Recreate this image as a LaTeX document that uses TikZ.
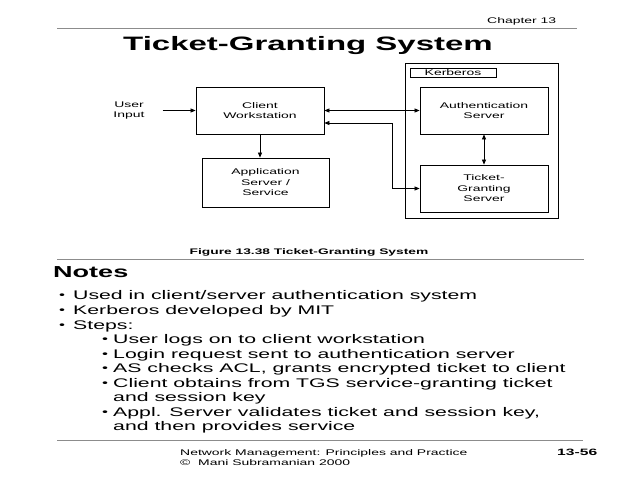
\documentclass[tikz,border=0pt]{standalone}
\usepackage{fontspec}
\setmainfont{Liberation Sans}[FakeStretch=1.7]
\usetikzlibrary{arrows.meta}
\begin{document}
\begin{tikzpicture}[x=1pt,y=-1pt,
  box/.style={draw, line width=0.8pt, inner sep=0pt},
  lbl/.style={font=\fontsize{8.2}{10.5}\selectfont, align=center, inner sep=0pt},
  arr/.style={-{Triangle[length=5pt,width=4pt]}, line width=0.7pt},
  darr/.style={{Triangle[length=5pt,width=4pt]}-{Triangle[length=5pt,width=4pt]}, line width=0.7pt},
  rule/.style={draw=gray!90, line width=1.5pt},
  body/.style={font=\fontsize{12.5}{14.5}\selectfont, anchor=base west, inner sep=0pt},
  bul/.style={font=\fontsize{10}{10}\selectfont, anchor=base west, inner sep=0pt, yshift=1pt},
  small/.style={font=\fontsize{8.2}{10}\selectfont, anchor=base west, inner sep=0pt},
]
\useasboundingbox[fill=white] (0,0) rectangle (640,480);

% header
\node[small] (chap) at (487,23) {Chapter 13};
\draw[rule] (57,28.5) -- (577,28.5);
\node[font=\fontsize{19.4}{22}\selectfont\bfseries, anchor=base, inner sep=0pt] (title) at (308,50) {Ticket-Granting System};

% diagram
\node[box, minimum width=153pt, minimum height=155pt] (kerb) at (481.5,140.5) {};
\node[box, lbl, minimum width=86pt, minimum height=9pt] (klbl) at (453,72.5) {Kerberos};
\node[lbl] (ui) at (129,110.5) {User\\Input};
\node[box, lbl, minimum width=128pt, minimum height=47pt] (cw) at (260,110.5) {Client\\Workstation};
\node[box, lbl, minimum width=127pt, minimum height=49pt] (app) at (265.5,182.5) {Application\\Server /\\Service};
\node[box, lbl, minimum width=128pt, minimum height=47pt] (as) at (484,110.5) {Authentication\\Server};
\node[box, lbl, minimum width=128pt, minimum height=47pt] (tgs) at (484,188.5) {Ticket-\\Granting\\Server};

\draw[arr, shorten <=18pt] (ui.east) -- (cw.west);
\draw[arr] (cw.south) -- (cw.south |- app.north);
\draw[darr] (cw.east) -- (as.west);
\draw[darr] ([yshift=-12.5pt]cw.east) -- ++(68,0) |- (tgs.west);
\draw[darr] (as.south) -- (tgs.north);

% caption
\node[font=\fontsize{8.1}{10}\selectfont\bfseries, anchor=base, inner sep=0pt] (cap) at (309,254) {Figure 13.38 Ticket-Granting System};
\draw[rule] (57,259.5) -- (584,259.5);

% notes
\node[font=\fontsize{15.9}{18}\selectfont\bfseries, anchor=base west, inner sep=0pt] (notes) at (53,277) {Notes};
\node[bul] (b1) at (59,299.5) {•};
\node[body] (t1) at (73,299.5) {Used in client/server authentication system};
\node[bul] (b2) at (59,314.5) {•};
\node[body] (t2) at (73,314.5) {Kerberos developed by MIT};
\node[bul] (b3) at (59,329.5) {•};
\node[body] (t3) at (73,329.5) {Steps:};
\node[bul] (s1b) at (102,343.5) {•};
\node[body] (s1) at (113,343.5) {User logs on to client workstation};
\node[bul] (s2b) at (102,358) {•};
\node[body] (s2) at (113,358) {Login request sent to authentication server};
\node[bul] (s3b) at (102,372.5) {•};
\node[body] (s3) at (113,372.5) {AS checks ACL, grants encrypted ticket to client};
\node[bul] (s4b) at (102,387) {•};
\node[body] (s4) at (113,387) {Client obtains from TGS service-granting ticket};
\node[body] (s4c) at (113,401.5) {and session key};
\node[bul] (s5b) at (102,416) {•};
\node[body] (s5) at (113,416) {Appl. Server validates ticket and session key,};
\node[body] (s5c) at (113,430.5) {and then provides service};

% footer
\draw[rule] (57,440.5) -- (583,440.5);
\node[small] (f1) at (180,455) {Network Management: Principles and Practice};
\node[small] (f2) at (180,465) {©\ \ Mani Subramanian 2000};
\node[font=\fontsize{9.2}{11}\selectfont\bfseries, anchor=base west, inner sep=0pt] (pg) at (557,455.5) {13-56};
\end{tikzpicture}
\end{document}
